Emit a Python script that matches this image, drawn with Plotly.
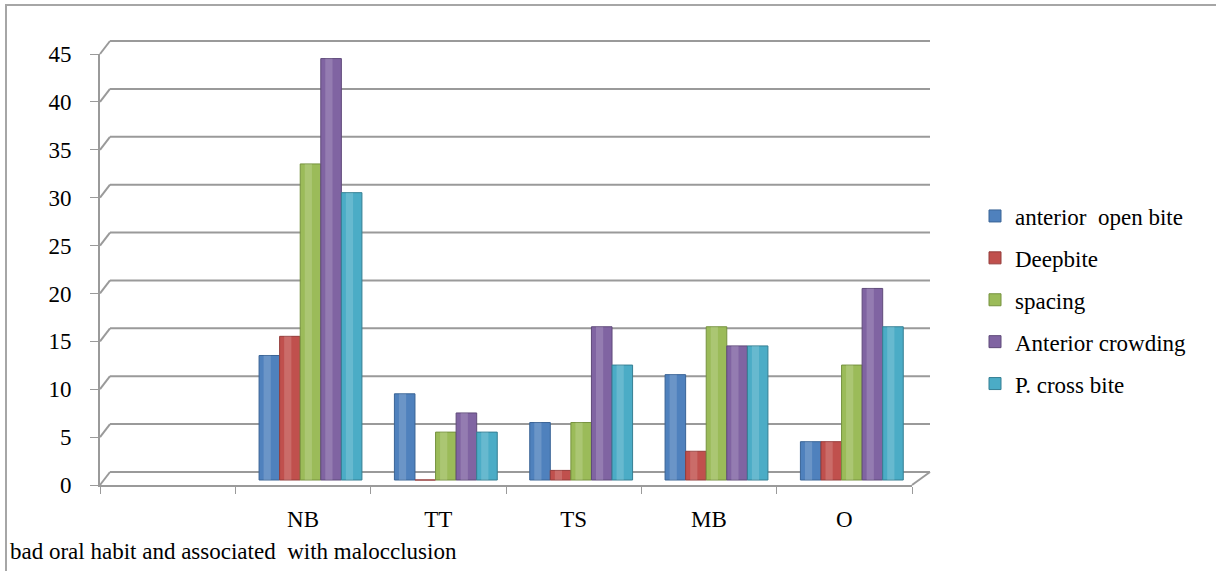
import plotly.graph_objects as go

# ---- data -------------------------------------------------------------
categories = [" ", "NB", "TT", "TS", "MB", "O"]
habits = ["NB", "TT", "TS", "MB", "O"]
anterior_open_bite = [13, 9, 6, 11, 4]
deepbite = [15, 0, 1, 3, 4]
spacing = [33, 5, 6, 16, 12]
anterior_crowding = [44, 7, 16, 14, 20]
p_cross_bite = [30, 5, 12, 14, 16]
y_ticks = [0, 5, 10, 15, 20, 25, 30, 35, 40, 45]

series = [
    ("anterior  open bite", anterior_open_bite, "#4F81BD", "#3A6496"),
    ("Deepbite", deepbite, "#C0504D", "#943C3A"),
    ("spacing", spacing, "#9BBB59", "#76923F"),
    ("Anterior crowding", anterior_crowding, "#8064A2", "#5F4A7A"),
    ("P. cross bite", p_cross_bite, "#4BACC6", "#357F93"),
]

# ---- page geometry (pixels) ---------------------------------------------
W, H = 1216, 571
PLOT_L, PLOT_R = 100, 912          # front floor edge
PLOT_TOP, PLOT_BOT = 54, 485       # front value axis, 45 .. 0
DEPTH_X, DEPTH_Y = 10, 13          # offset of the back wall
WALL_R = 930
BAR_BASE = 480                     # bars stand halfway into the floor
BAR_SHIFT = 7.5                    # horizontal depth shift of the bars
BAR_GAP = 0.24
GRID = "#9A9A9A"
FONT = "Liberation Serif"


def px(x):
    return x / W


def py(y):
    return 1 - y / H


scale = (PLOT_BOT - PLOT_TOP) / (y_ticks[-1] - y_ticks[0])
cat_w = (PLOT_R - PLOT_L) / len(categories)
base = (PLOT_BOT - BAR_BASE) / scale       # floor depth in value units
shift = BAR_SHIFT / cat_w                  # depth shift in category units
group_w = 1 - BAR_GAP
bar_w = group_w / len(series)

fig = go.Figure()

for i, (name, vals, col, edge) in enumerate(series):
    off = -group_w / 2 + i * bar_w + shift
    fig.add_trace(go.Bar(
        x=habits, y=vals, base=base, name=name,
        width=bar_w, offset=off,
        marker=dict(color=col, line=dict(color=edge, width=1)),
        legendgroup=name,
    ))
    # soft highlight down each column to give a rounded look
    fig.add_trace(go.Bar(
        x=habits, y=vals, base=base, showlegend=False, hoverinfo="skip",
        width=bar_w * 0.35, offset=off + bar_w * 0.22,
        marker=dict(color="rgba(255,255,255,0.16)", line=dict(width=0)),
        legendgroup=name,
    ))

shapes = []


def line(x0, y0, x1, y1, w=2):
    shapes.append(dict(type="line", xref="paper", yref="paper",
                       x0=px(x0), y0=py(y0), x1=px(x1), y1=py(y1),
                       line=dict(color=GRID, width=w), layer="below"))


# back-wall gridlines with the short step from the value axis
for v in y_ticks:
    fy = PLOT_BOT - scale * v
    line(PLOT_L, fy, PLOT_L + DEPTH_X, fy - DEPTH_Y)
    line(PLOT_L + DEPTH_X, fy - DEPTH_Y, WALL_R, fy - DEPTH_Y)

# right edge of the floor
line(PLOT_R, PLOT_BOT, WALL_R, PLOT_BOT - DEPTH_Y)

# outer chart border
shapes.append(dict(type="path", xref="paper", yref="paper",
                   path=f"M {px(6)} {py(H + 5)} L {px(6)} {py(5)} L {px(W + 5)} {py(5)}",
                   line=dict(color="#A6A6A6", width=2)))

fig.update_layout(
    template="none",
    width=W, height=H,
    margin=dict(l=0, r=0, t=0, b=0, pad=0, autoexpand=False),
    paper_bgcolor="white", plot_bgcolor="rgba(0,0,0,0)",
    font=dict(family=FONT, size=23, color="black"),
    barmode="overlay",
    showlegend=True,
    legend=dict(x=px(975), y=py(300), xanchor="left", yanchor="middle",
                font=dict(family=FONT, size=23, color="black"),
                tracegroupgap=9, bgcolor="rgba(0,0,0,0)", borderwidth=0),
    xaxis=dict(domain=[px(PLOT_L), px(PLOT_R)], type="category",
               categoryorder="array", categoryarray=categories,
               range=[-0.5, len(categories) - 0.5],
               tickson="boundaries", ticks="outside", ticklen=7,
               tickcolor=GRID, tickwidth=1, showline=True, linecolor=GRID,
               linewidth=2, showgrid=False, zeroline=False,
               ticklabelstandoff=12, automargin=False, fixedrange=True),
    yaxis=dict(domain=[py(PLOT_BOT), py(PLOT_TOP)],
               range=[y_ticks[0], y_ticks[-1]],
               tickvals=y_ticks, ticks="outside", ticklen=8,
               tickcolor=GRID, tickwidth=1, showline=True, linecolor=GRID,
               linewidth=2, showgrid=False, zeroline=False,
               ticklabelstandoff=14, automargin=False),
    shapes=shapes,
    annotations=[dict(text="bad oral habit and associated  with malocclusion",
                      xref="paper", yref="paper", x=px(8), y=py(551),
                      xanchor="left", yanchor="middle", showarrow=False,
                      font=dict(family=FONT, size=23, color="black"))],
)

fig.write_html("out.html")
